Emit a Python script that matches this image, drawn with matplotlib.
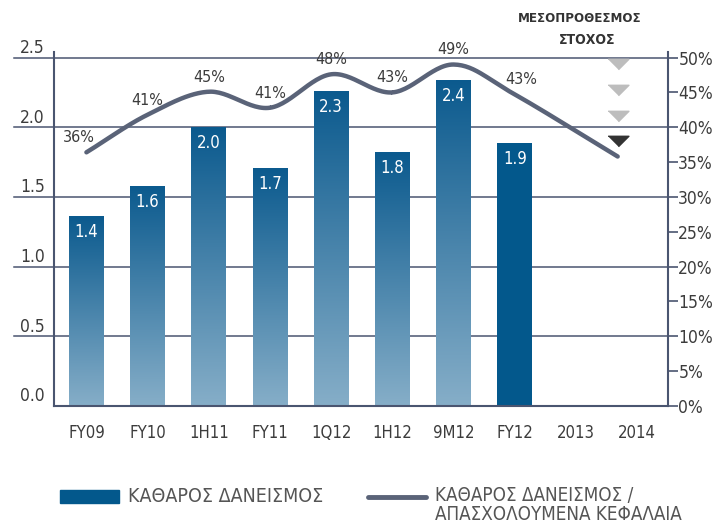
import numpy as np
import matplotlib
matplotlib.use('Agg')
import matplotlib.pyplot as plt
from matplotlib import font_manager
from matplotlib.patches import Rectangle
from matplotlib.lines import Line2D
import matplotlib.transforms as mtransforms

# Data
categories = ['FY09', 'FY10', '1H11', 'FY11', '1Q12', '1H12', '9M12', 'FY12', '2013', '2014']
net_lending = [1.36, 1.58, 2.0, 1.71, 2.26, 1.82, 2.34, 1.89]
bar_labels = ['1.4', '1.6', '2.0', '1.7', '2.3', '1.8', '2.4', '1.9']
# where the (smoothed) line sits at each category, and the printed values
ratio_line = [36.4, 41.8, 45.1, 42.8, 47.6, 45.0, 49.0, 44.7]
ratio_labels = ['36%', '41%', '45%', '41%', '48%', '43%', '49%', '43%']
target_end = 35.8
target_marks = [49.1, 45.3, 41.6, 38.0]
target_colors = ['#bdbdbd', '#bdbdbd', '#bdbdbd', '#333333']

# pick a narrow font if one is there
names = {f.name for f in font_manager.fontManager.ttflist}
if 'Liberation Sans Narrow' in names:
    FONT = 'Liberation Sans Narrow'
    STRETCH = 'normal'
else:
    FONT = 'DejaVu Sans'
    STRETCH = 'condensed'
plt.rcParams['font.family'] = [FONT, 'DejaVu Sans']
plt.rcParams['font.stretch'] = STRETCH

AXIS = '#4a5570'
LINE = '#5a6378'
TEXT = '#3c3c3c'
DARK = '#03588c'
TOP = np.array([11, 90, 142]) / 255
BOTTOM = np.array([134, 174, 200]) / 255

fig = plt.figure(figsize=(7.13, 5.24), dpi=100)
ax = fig.add_axes([0.0757, 0.2252, 0.861, 0.6756])
ax2 = ax.twinx()
ax.set_zorder(ax2.get_zorder() - 1)
ax2.patch.set_visible(False)

x = np.arange(len(categories))

# bars: gradient for all but the last one
grad = np.linspace(0, 1, 256)[:, None]
img = BOTTOM[None, None, :] * (1 - grad[..., None]) + TOP[None, None, :] * grad[..., None]
width = 0.57
bars = ax.bar(x[:len(net_lending)], net_lending, width=width, color='none', edgecolor='none', zorder=2)
for i, b in enumerate(bars):
    if i == len(bars) - 1:
        b.set_facecolor(DARK)
        continue
    im = ax.imshow(img, extent=[b.get_x(), b.get_x() + width, 0, b.get_height()],
                   origin='lower', aspect='auto', zorder=2)
    im.set_clip_path(b)
for b, lab in zip(bars, bar_labels):
    ax.annotate(lab, (b.get_x() + width / 2, b.get_height()), xytext=(0, -11.5),
                textcoords='offset points', ha='center', va='center',
                color='white', fontsize=12, zorder=5)
ax.set_xlim(-0.53, 9.5)
ax.set_ylim(0, 2.54)
ax2.set_ylim(0, 50.8)

# grid lines that run past the left spine, labels above them
blend = mtransforms.blended_transform_factory(ax.transAxes, ax.transData)
for v in [0.5, 1.0, 1.5, 2.0, 2.5]:
    ax.plot([-0.065, 1], [v, v], color=AXIS, lw=1.1, transform=blend, clip_on=False, zorder=1)
for v in [0.0, 0.5, 1.0, 1.5, 2.0, 2.5]:
    ax.text(-0.015, v + 0.005, f'{v:.1f}', transform=blend, ha='right', va='bottom',
            fontsize=12.5, color=TEXT)

ax.set_yticks([])
ax.set_xticks(x)
ax.set_xticklabels(categories, fontsize=12, color=TEXT)
ax.tick_params(axis='x', length=0, pad=13)
for s in ['top', 'right']:
    ax.spines[s].set_visible(False)
ax.spines['left'].set_color(AXIS)
ax.spines['left'].set_linewidth(1.5)
ax.spines['bottom'].set_color(AXIS)
ax.spines['bottom'].set_linewidth(1.5)

for s in ['top', 'left', 'bottom']:
    ax2.spines[s].set_visible(False)
ax2.spines['right'].set_color(AXIS)
ax2.spines['right'].set_linewidth(1.5)
ax2.set_yticks(np.arange(0, 51, 5))
ax2.set_yticklabels([f'{t}%' for t in range(0, 51, 5)], fontsize=12.5, color=TEXT)
ax2.tick_params(axis='y', length=7, width=1.2, color=AXIS, pad=0.5)

# smooth ratio line (Catmull-Rom through the points)
target_x = 8.68
px = np.array(list(x[:len(ratio_line)]) + [target_x], dtype=float)
py = np.array(ratio_line + [target_end], dtype=float)
P = np.vstack([px, py]).T
P = np.vstack([2 * P[0] - P[1], P, 2 * P[-1] - P[-2]])
curve = []
for k in range(1, len(P) - 2):
    p0, p1, p2, p3 = P[k - 1], P[k], P[k + 1], P[k + 2]
    for t in np.linspace(0, 1, 30):
        curve.append(0.5 * (2 * p1 + (-p0 + p2) * t + (2 * p0 - 5 * p1 + 4 * p2 - p3) * t ** 2
                            + (-p0 + 3 * p1 - 3 * p2 + p3) * t ** 3))
curve = np.array(curve)
ax2.plot(curve[:, 0], curve[:, 1], color=LINE, lw=3.2, solid_capstyle='round', zorder=3)

for i, lab in enumerate(ratio_labels):
    dx = -0.12 if i == 0 else (0.1 if i == len(ratio_labels) - 1 else 0)
    ax2.text(x[i] + dx, ratio_line[i] + 2.1, lab, ha='center', va='center', fontsize=11.5, color=TEXT)

# medium-term target markers
tri = [(-1, 0.5), (1, 0.5), (0, -0.5)]
for v, c in zip(target_marks, target_colors):
    ax2.plot([target_x], [v], marker=tri, markersize=15, color=c, linestyle='none', zorder=4)
fig.text(0.813, 0.965, 'ΜΕΣΟΠΡΟΘΕΣΜΟΣ', ha='center', va='center', fontsize=9.5,
         fontweight='bold', color='#333333')
fig.text(0.824, 0.923, 'ΣΤΟΧΟΣ', ha='center', va='center', fontsize=10,
         fontweight='bold', color='#333333')

# legend drawn by hand
fig.patches.append(Rectangle((60 / 713, 1 - 503 / 524), 59 / 713, 13 / 524,
                             transform=fig.transFigure, color=DARK))
fig.text(128 / 713, 1 - 497 / 524, 'ΚΑΘΑΡΟΣ ΔΑΝΕΙΣΜΟΣ', ha='left', va='center',
         fontsize=14, color='#555555')
fig.lines.append(Line2D([368 / 713, 426 / 713], [1 - 497 / 524, 1 - 497 / 524],
                        transform=fig.transFigure, color=LINE, lw=3.5, solid_capstyle='round'))
fig.text(435 / 713, 1 - 505 / 524, 'ΚΑΘΑΡΟΣ ΔΑΝΕΙΣΜΟΣ /\nΑΠΑΣΧΟΛΟΥΜΕΝΑ ΚΕΦΑΛΑΙΑ',
         ha='left', va='center', multialignment='left', linespacing=1.02,
         fontsize=13.5, color='#555555')

fig.savefig('out.png', dpi=100)
